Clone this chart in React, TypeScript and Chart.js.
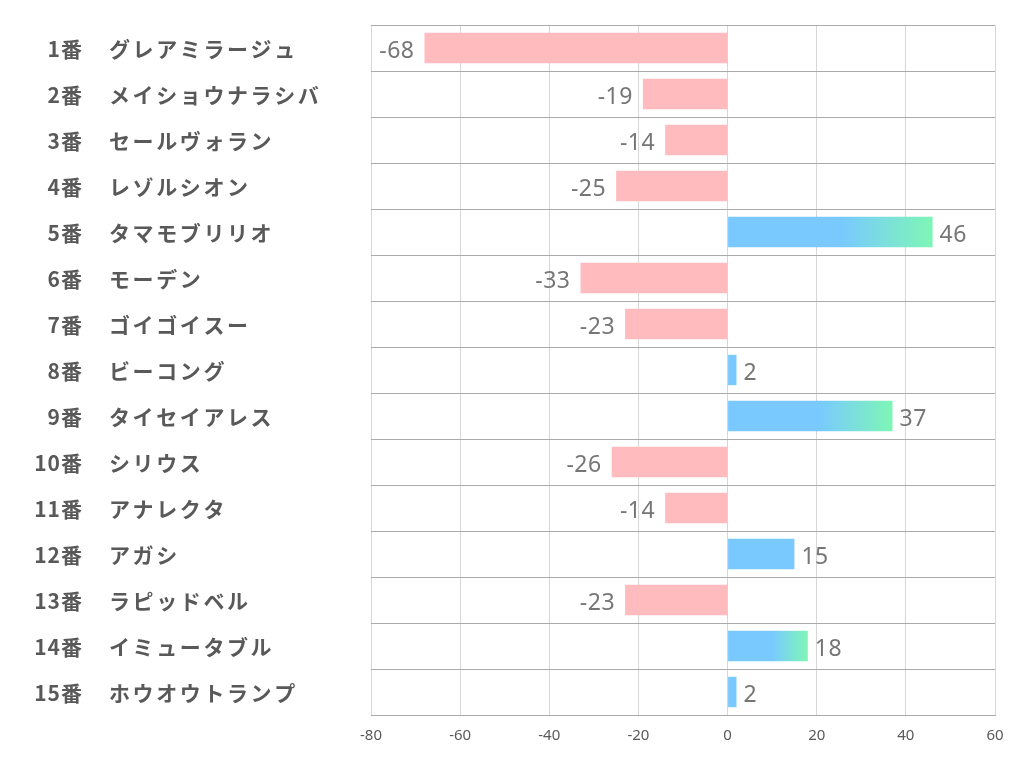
import React, { useEffect, useRef } from "react";
import { Chart, registerables } from "chart.js";

Chart.register(...registerables);

const horseNumbers = ["1番", "2番", "3番", "4番", "5番", "6番", "7番", "8番", "9番", "10番", "11番", "12番", "13番", "14番", "15番"];
const horseNames = [
  "グレアミラージュ",
  "メイショウナラシバ",
  "セールヴォラン",
  "レゾルシオン",
  "タマモブリリオ",
  "モーデン",
  "ゴイゴイスー",
  "ビーコング",
  "タイセイアレス",
  "シリウス",
  "アナレクタ",
  "アガシ",
  "ラピッドベル",
  "イミュータブル",
  "ホウオウトランプ",
];
const values = [-68, -19, -14, -25, 46, -33, -23, 2, 37, -26, -14, 15, -23, 18, 2];
const xMin = -80;
const xMax = 60;
const xStep = 20;
const gradientThreshold = 15;

const PINK = "#FFBBBE";
const BLUE = "#79C9FF";
const GREEN = "#7EF6B6";

export default function App() {
  const canvasRef = useRef<HTMLCanvasElement | null>(null);

  useEffect(() => {
    const canvas = canvasRef.current;
    if (!canvas) return;

    const labelPlugin = {
      id: "customLabels",
      beforeDatasetsDraw(chart: any) {
        const { ctx, chartArea } = chart;
        const n = horseNames.length;
        const rowH = (chartArea.bottom - chartArea.top) / n;
        ctx.save();
        ctx.strokeStyle = "#ABABAB";
        ctx.lineWidth = 1;
        for (let i = 0; i <= n; i++) {
          const y = Math.round(chartArea.top + i * rowH) + 0.5;
          ctx.beginPath();
          ctx.moveTo(chartArea.left, y);
          ctx.lineTo(chartArea.right, y);
          ctx.stroke();
        }
        ctx.restore();
      },
      afterDraw(chart: any) {
        const { ctx } = chart;
        const yScale = chart.scales.y;
        const xScale = chart.scales.x;
        ctx.save();
        ctx.fillStyle = "#595959";
        ctx.font = "bold 21px 'Noto Sans CJK JP', sans-serif";
        ctx.textBaseline = "middle";
        for (let i = 0; i < horseNames.length; i++) {
          const y = yScale.getPixelForValue(i) + 1;
          ctx.letterSpacing = "1px";
          ctx.textAlign = "right";
          ctx.fillText(horseNumbers[i], 83, y);
          ctx.letterSpacing = "2.6px";
          ctx.textAlign = "left";
          ctx.fillText(horseNames[i], 109, y);
        }
        ctx.letterSpacing = "0.5px";
        ctx.fillStyle = "#767676";
        ctx.font = "23px 'Noto Sans', sans-serif";
        const meta = chart.getDatasetMeta(0);
        for (let i = 0; i < values.length; i++) {
          const v = values[i];
          const bar = meta.data[i];
          const end = xScale.getPixelForValue(v);
          const y = bar.y + 3;
          if (v < 0) {
            ctx.textAlign = "right";
            ctx.fillText(String(v), end - 10, y);
          } else {
            ctx.textAlign = "left";
            ctx.fillText(String(v), end + 7, y);
          }
        }
        ctx.restore();
      },
    };

    const chart = new Chart(canvas, {
      type: "bar",
      data: {
        labels: horseNames,
        datasets: [
          {
            data: values,
            barPercentage: 0.66,
            categoryPercentage: 1,
            borderWidth: 0,
            backgroundColor: (c: any) => {
              const v = c.raw as number;
              if (v < 0) return PINK;
              const chart = c.chart;
              if (v <= gradientThreshold || !chart.chartArea) return BLUE;
              const x0 = chart.scales.x.getPixelForValue(0);
              const x1 = chart.scales.x.getPixelForValue(v);
              const g = chart.ctx.createLinearGradient(x0, 0, x1, 0);
              g.addColorStop(0, BLUE);
              g.addColorStop(0.55, BLUE);
              g.addColorStop(1, GREEN);
              return g;
            },
          },
        ],
      },
      options: {
        indexAxis: "y",
        responsive: false,
        animation: false,
        devicePixelRatio: 1,
        layout: { padding: { left: 371, right: 27, top: 25, bottom: 0 } },
        plugins: {
          legend: { display: false },
          tooltip: { enabled: false },
        },
        scales: {
          x: {
            min: xMin,
            max: xMax,
            afterFit: (scale: any) => {
              scale.height = 67;
            },
            ticks: {
              stepSize: xStep,
              padding: 12,
              color: "#595959",
              font: { family: "'Noto Sans', sans-serif", size: 15 },
            },
            grid: {
              color: "#D6D6D6",
              drawTicks: false,
              lineWidth: 1,
            },
            border: { display: true, color: "#ABABAB" },
          },
          y: {
            display: false,
          },
        },
      } as any,
      plugins: [labelPlugin],
    });

    return () => {
      chart.destroy();
    };
  }, []);

  return (
    <div style={{ position: "absolute", left: 0, top: 0, width: 1022, height: 782, background: "#fff" }}>
      <canvas ref={canvasRef} width={1022} height={782} style={{ display: "block" }} />
    </div>
  );
}
